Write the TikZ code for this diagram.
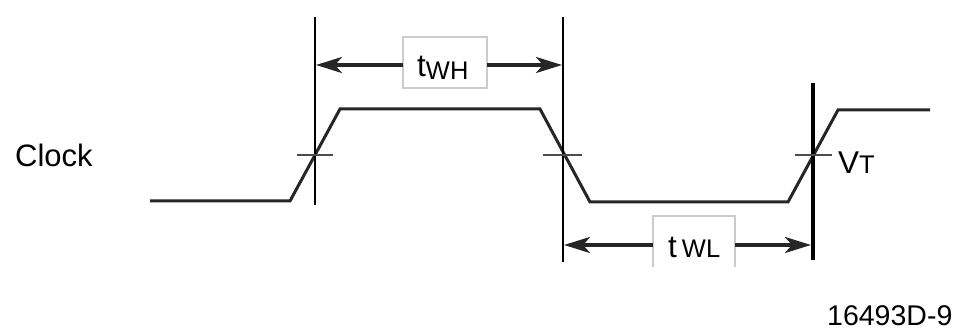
\documentclass[tikz,border=0pt]{standalone}
\usepackage{fontspec}
\setmainfont{Liberation Sans}
\usetikzlibrary{arrows.meta}
\tikzset{
  wave/.style={line width=3pt, draw=black!85, line join=miter},
  vline/.style={line width=2.4pt, draw=black},
  tick/.style={line width=2.2pt, draw=black!70},
  dimarrow/.style={line width=3.6pt, draw=black!85, -{Stealth[length=26pt,width=16pt,inset=7pt]}},
  lbl/.style={inner sep=0pt, anchor=base west, text=black},
  lblbox/.style={draw=black!20, line width=1.3pt}
}
\newcommand{\bigtxt}[1]{{\fontsize{31.5}{31.5}\selectfont #1}}
\newcommand{\smltxt}[1]{{\fontsize{25.5}{25.5}\selectfont #1}}
\begin{document}
\begin{tikzpicture}[x=1pt,y=-1pt]
\useasboundingbox (0,0) rectangle (959,331);
% waveform
\coordinate (w0) at (150,201);
\coordinate (w1) at (290,201);
\coordinate (w2) at (340,109);
\coordinate (w3) at (540,109);
\coordinate (w4) at (590,202);
\coordinate (w5) at (788,202);
\coordinate (w6) at (838,110);
\coordinate (w7) at (930,110);
\draw[wave] (w0) -- (w1) -- (w2) -- (w3) -- (w4) -- (w5) -- (w6) -- (w7);
% vertical reference lines
\coordinate (l1t) at (315,17);  \coordinate (l1b) at (315,205);
\coordinate (l2t) at (563,17);  \coordinate (l2b) at (563,262);
\coordinate (l3t) at (813,83);  \coordinate (l3b) at (813,260);
\draw[vline] (l1t) -- (l1b);
\draw[vline] (l2t) -- (l2b);
\draw[vline, line width=4pt] (l3t) -- (l3b);
% threshold ticks
\coordinate (k1a) at (297,155); \coordinate (k1b) at (333,155);
\coordinate (k2a) at (543,155); \coordinate (k2b) at (582,155);
\coordinate (k3a) at (795,155); \coordinate (k3b) at (832,155);
\draw[tick] (k1a) -- (k1b);
\draw[tick] (k2a) -- (k2b);
\draw[tick] (k3a) -- (k3b);
% tWH
\draw[lblbox] (403,37) rectangle (487,88);
\coordinate (bhL) at (403,65); \coordinate (bhR) at (487,65);
\coordinate (ahL) at (316,65); \coordinate (ahR) at (562,65);
\draw[dimarrow] (bhL) -- (ahL);
\draw[dimarrow] (bhR) -- (ahR);
\node[lbl] (twh) at (417,77) {\bigtxt{t}\raisebox{-2.5pt}{\smltxt{WH}}};
% tWL
\coordinate (b2a) at (653,267); \coordinate (b2b) at (653,216);
\coordinate (b2c) at (735,216); \coordinate (b2d) at (735,267);
\draw[lblbox] (b2a) -- (b2b) -- (b2c) -- (b2d);
\coordinate (blL) at (653,245); \coordinate (blR) at (735,245);
\coordinate (alL) at (564,245); \coordinate (alR) at (811,245);
\draw[dimarrow] (blL) -- (alL);
\draw[dimarrow] (blR) -- (alR);
\node[lbl] (twl) at (668,258) {\bigtxt{t}\hspace{5pt}\smltxt{WL}};
% other labels
\node[lbl] (clk) at (15,167) {\fontsize{31}{31}\selectfont Clock};
\node[lbl] (vt) at (838,174) {\bigtxt{V}\smltxt{T}};
\node[lbl] (fig) at (827,325) {\fontsize{28.5}{28.5}\selectfont 16493D-9};
\end{tikzpicture}
\end{document}
